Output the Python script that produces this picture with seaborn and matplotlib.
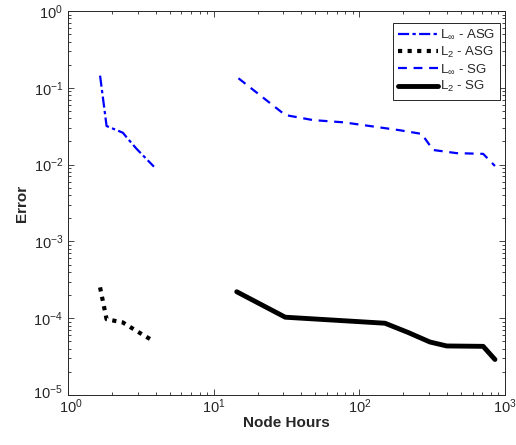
import numpy as np
import pandas as pd
import seaborn as sns
import matplotlib.pyplot as plt
from matplotlib.transforms import ScaledTranslation

# Datos
x_asg = [1.66, 1.84, 2.38, 2.58, 2.96, 3.89]
linf_asg = [0.144, 0.0318, 0.026, 0.0216, 0.016, 0.0094]
l2_asg = [2.52e-4, 9.7e-5, 8.8e-5, 8.0e-5, 6.8e-5, 5.0e-5]

x_linf_sg = [14.8, 31, 48, 78, 118, 190, 268, 321, 465, 708, 853]
linf_sg = [0.133, 0.0442, 0.038, 0.0355, 0.0318, 0.028, 0.0251, 0.0155, 0.0141, 0.0138, 0.0096]

x_l2_sg = [14.4, 31, 63, 150, 217, 305, 398, 708, 853]
l2_sg = [2.21e-4, 1.03e-4, 9.5e-5, 8.6e-5, 6.5e-5, 4.9e-5, 4.35e-5, 4.3e-5, 2.9e-5]

labels = [r"L$_{\infty}$ - ASG", r"L$_{2}$ - ASG", r"L$_{\infty}$ - SG", r"L$_{2}$ - SG"]

sns.set_style("ticks")
plt.rcParams["font.family"] = ["Liberation Sans", "DejaVu Sans"]
plt.rcParams["mathtext.fontset"] = "custom"
plt.rcParams["mathtext.rm"] = "Liberation Sans"
plt.rcParams["mathtext.it"] = "Liberation Sans"
plt.rcParams["mathtext.bf"] = "Liberation Sans:bold"

fig = plt.figure(figsize=(5.16, 4.45), dpi=100)
ax = fig.add_axes([68 / 516, 50 / 445, 437 / 516, 384 / 445])

sns.lineplot(x=x_asg, y=linf_asg, ax=ax, color="blue", lw=1.6, sort=False,
             label=labels[0], linestyle=(0, (5, 1.5, 1.5, 1.5)))
sns.lineplot(x=x_asg, y=l2_asg, ax=ax, color="black", lw=3.0, sort=False,
             label=labels[1], linestyle=(0, (1, 1.3)))
sns.lineplot(x=x_linf_sg, y=linf_sg, ax=ax, color="blue", lw=1.6, sort=False,
             label=labels[2], linestyle=(0, (4, 3)))
sns.lineplot(x=x_l2_sg, y=l2_sg, ax=ax, color="black", lw=3.5, sort=False,
             label=labels[3], linestyle="-")

ax.set_xscale("log")
ax.set_yscale("log")
ax.set_xlim(1, 1000)
ax.set_ylim(1e-5, 1)

ax.tick_params(which="both", direction="in", top=True, right=True,
               labelsize=10.5, color="#262626", labelcolor="#262626")
ax.tick_params(which="major", length=4.5, width=0.6)
ax.tick_params(which="minor", length=2.5, width=0.6)
ax.tick_params(axis="x", which="major", pad=1.5)
for s in ax.spines.values():
    s.set_linewidth(0.7)
    s.set_color("#262626")

ax.set_xlabel("Node Hours", fontsize=11, fontweight="bold", color="#262626", labelpad=0)
ax.set_ylabel("Error", fontsize=11, fontweight="bold", color="#262626", labelpad=3)

leg = ax.legend(loc="upper right", bbox_to_anchor=(0.9886, 0.969), fontsize=9.5,
                frameon=True, fancybox=False, framealpha=1, edgecolor="#262626",
                handlelength=3.0, handletextpad=0.15, labelspacing=0.25,
                borderpad=0.4, borderaxespad=0)
leg.get_frame().set_linewidth(0.7)

# separar un poco las etiquetas de la esquina inferior izquierda
fig.canvas.draw()
for lab in ax.get_yticklabels():
    if lab.get_position()[1] == 1e-5:
        lab.set_transform(lab.get_transform() + ScaledTranslation(0, 4 / 100, fig.dpi_scale_trans))
for lab in ax.get_xticklabels():
    if lab.get_position()[0] == 1:
        lab.set_transform(lab.get_transform() + ScaledTranslation(3 / 100, 0, fig.dpi_scale_trans))

fig.savefig("out.png", dpi=100)
